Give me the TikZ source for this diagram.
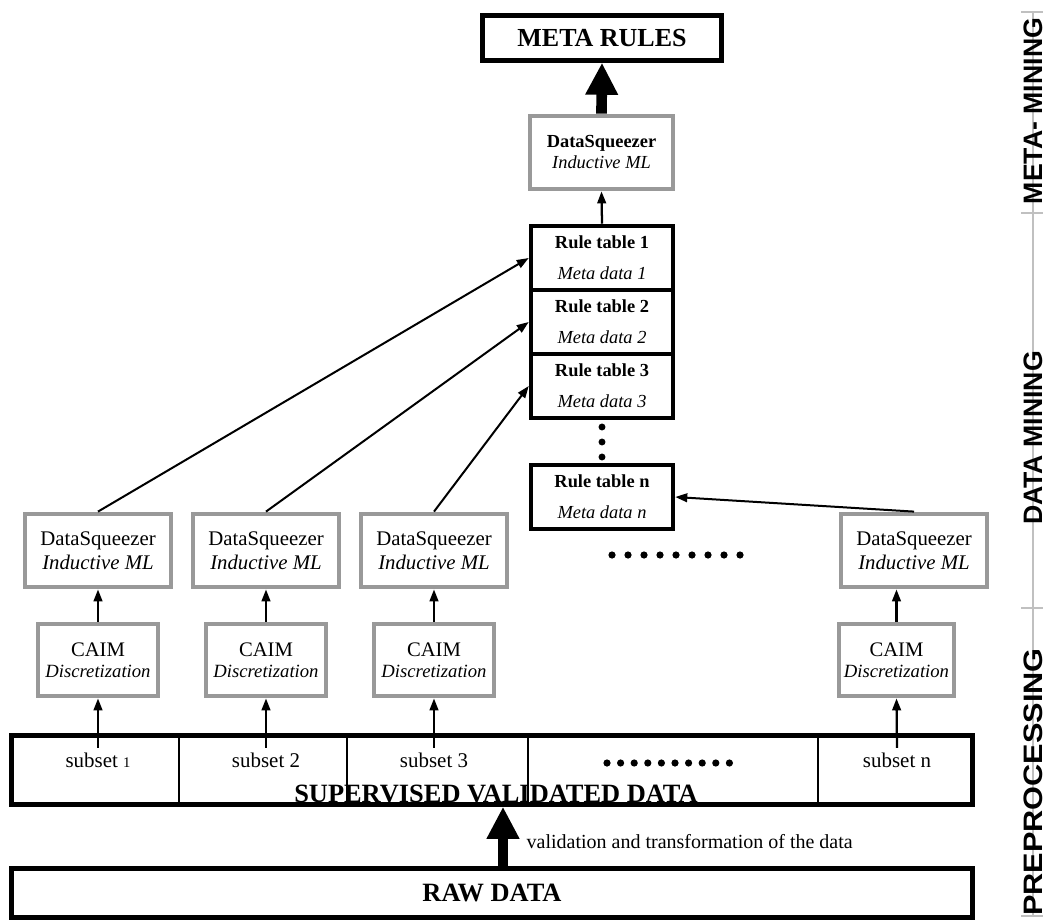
\documentclass[tikz,border=0pt]{standalone}
\usepackage{fontspec}
\setmainfont{Liberation Serif}
\newfontfamily\stagefont{Liberation Sans}
\usetikzlibrary{arrows.meta}
\definecolor{boxgray}{RGB}{153,153,153}
\definecolor{stagegray}{RGB}{192,192,192}

\begin{document}
\begin{tikzpicture}[x=0.75pt, y=-0.75pt, >={Triangle[width=6.5pt,length=9pt]},
		boldbox/.style={draw, line width=3.4pt, inner sep=0pt, align=center},
		graybox/.style={draw=boxgray, line width=3.6pt, inner sep=0pt, align=center},
		ruletab/.style={boldbox, minimum width=106.5pt, minimum height=48pt, font=\fontsize{13.8}{23.25}\selectfont},
		squeezer/.style={graybox, minimum width=109.5pt, minimum height=54.75pt, font=\fontsize{15.6}{18}\selectfont},
		caim/.style={graybox, minimum width=90pt, minimum height=54pt, font=\fontsize{15.5}{16}\selectfont},
		subset/.style={font=\fontsize{15.7}{16}\selectfont},
		link/.style={->, line width=1.7pt},
		bigarrow/.style={-{Triangle[width=23pt,length=24pt]}, line width=8pt},
		divider/.style={line width=1.4pt},
		stage/.style={rotate=90, font=\stagefont\bfseries\fontsize{20}{20}\selectfont},
		stageline/.style={stagegray, line width=2.2pt}]
	\useasboundingbox (0,0) rectangle (1046,924);

	% Phase labels on the right
	\draw[stageline] (1033,12) -- (1033,916);
	\foreach \y in {12,213,608,916}
		\draw[stageline] (1021,\y) -- (1043,\y);
	\node[stage] (metastage) at (1033,111) {META- MINING};
	\node[stage] (minestage) at (1033,438) {DATA MINING};
	\node[stage] (prepstage) at (1033,782) {\scalebox{1.15}[1]{PREPROCESSING}};

	% Meta mining
	\node[boldbox, minimum width=179.25pt, minimum height=33.75pt, font=\bfseries\fontsize{19.5}{20}\selectfont] (metarules) at (602,38) {META RULES};
	\node[graybox, minimum width=107.25pt, minimum height=54.75pt, font=\fontsize{13.8}{15.75}\selectfont] (dstop) at (601.5,152.5) {\textbf{DataSqueezer}\\\textit{Inductive ML}};

	% Stack of rule tables
	\foreach \i/\y in {1/258, 2/322, 3/386}
		\node[ruletab] (rt\i) at (602,\y) {\textbf{Rule table \i}\\\textit{Meta data \i}};
	\node[ruletab] (rtn) at (602,497) {\textbf{Rule table n}\\\textit{Meta data n}};
	\foreach \y in {427,442,457}
		\fill (602,\y) circle (2.6pt);

	% Data mining and preprocessing columns
	\foreach \i/\x in {1/98, 2/266, 3/434} {
		\node[squeezer] (ds\i) at (\x,550.5) {DataSqueezer\\\textit{Inductive ML}};
		\node[caim] (cm\i) at (\x,660) {CAIM\\{\fontsize{14}{16}\selectfont\textit{Discretization}}};
	}
	\node[squeezer] (dsn) at (914,550.5) {DataSqueezer\\\textit{Inductive ML}};
	\node[caim, minimum width=86.25pt] (cmn) at (896.5,660) {CAIM\\{\fontsize{14}{16}\selectfont\textit{Discretization}}};
	\foreach \k in {0,...,8}
		\fill (612+\k*16,555) circle (2.7pt);

	% Supervised validated data
	\node[boldbox, minimum width=720.75pt, minimum height=51.75pt] (svd) at (492,770) {};
	\foreach \x in {179,347,528,818}
		\draw[divider] (\x,736) -- (\x,805);
	\node[subset] (sub1) at (98,760) {subset {\fontsize{11}{11}\selectfont 1}};
	\node[subset] (sub2) at (266,760) {subset 2};
	\node[subset] (sub3) at (434,760) {subset 3};
	\node[subset] (subn) at (897,760) {subset n};
	\foreach \k in {0,...,9}
		\fill (607+\k*13.6,763) circle (2.7pt);
	\node[anchor=base, font=\bfseries\fontsize{19.8}{20}\selectfont] (svdlabel) at (496,802) {SUPERVISED VALIDATED DATA};

	% Raw data
	\node[boldbox, minimum width=720.75pt, minimum height=36.75pt, font=\bfseries\fontsize{19.8}{20}\selectfont] (raw) at (492,893) {RAW DATA};
	\node[anchor=base west, font=\fontsize{15}{16}\selectfont] (valtxt) at (522,848) {validation and transformation of the data};

	% Connectors
	\draw[bigarrow] (raw.north -| 503,0) -- (svd.south -| 503,0);
	\foreach \i in {1,2,3} {
		\draw[link] (sub\i.north) -- (cm\i.south);
		\draw[link] (cm\i.north) -- (ds\i.south);
		\draw[link, line width=1.5pt] (ds\i.north) -- (rt\i.west);
	}
	\draw[link] (subn.north) -- (cmn.south);
	\draw[link] (cmn.north) -- (cmn.north |- dsn.south);
	\draw[link, line width=1.5pt] (dsn.north) -- (rtn.east);
	\draw[link] (rt1.north) -- (dstop.south);
	\draw[bigarrow] (dstop.north) -- (metarules.south);
\end{tikzpicture}
\end{document}
